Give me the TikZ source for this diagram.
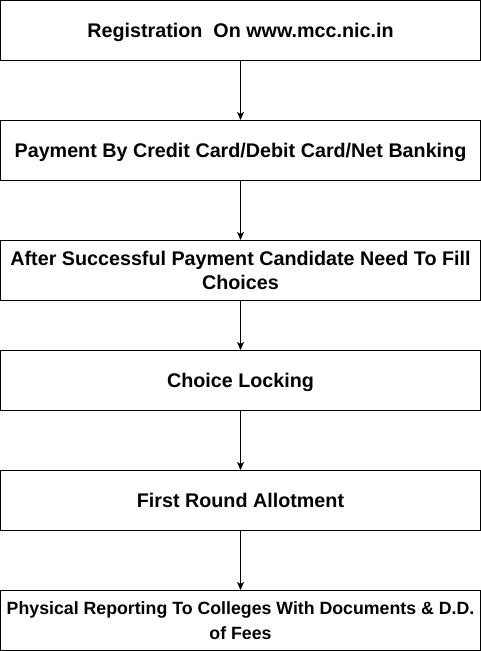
\documentclass[tikz,border=0pt]{standalone}
\usepackage{fontspec}
\setmainfont{Liberation Sans}
\usetikzlibrary{arrows.meta}

\tikzset{
  stepbox/.style={draw, line width=0.75pt, inner sep=0pt,
    minimum width=360pt, minimum height=45pt, align=center,
    font=\bfseries\fontsize{14.8pt}{18.5pt}\selectfont},
  onebox/.style={stepbox, text depth=0pt},
  longbox/.style={stepbox, font=\bfseries\fontsize{13.3pt}{18.5pt}\selectfont},
  flow/.style={line width=0.75pt, -{Stealth[length=6pt, width=5.2pt, inset=1.5pt]}}
}

\begin{document}
\begin{tikzpicture}[x=0.75pt, y=-0.75pt]
\useasboundingbox (0,0) rectangle (481,651);

\node[onebox] (reg) at (240.5,30.5) {Registration\ \ On www.mcc.nic.in};
\node[onebox] (pay) at (240.5,150.5) {Payment By Credit Card/Debit Card/Net Banking};
\node[stepbox] (fill) at (240.5,270.5) {After Successful Payment Candidate Need To Fill\\Choices};
\node[onebox] (lock) at (240.5,380.5) {Choice Locking};
\node[onebox] (allot) at (240.5,500.5) {First Round Allotment};
\node[longbox] (report) at (240.5,620.5) {Physical Reporting To Colleges With Documents \& D.D.\\of Fees};

\draw[flow] (reg) -- (pay);
\draw[flow] (pay) -- (fill);
\draw[flow] (fill) -- (lock);
\draw[flow] (lock) -- (allot);
\draw[flow] (allot) -- (report);

\end{tikzpicture}
\end{document}
